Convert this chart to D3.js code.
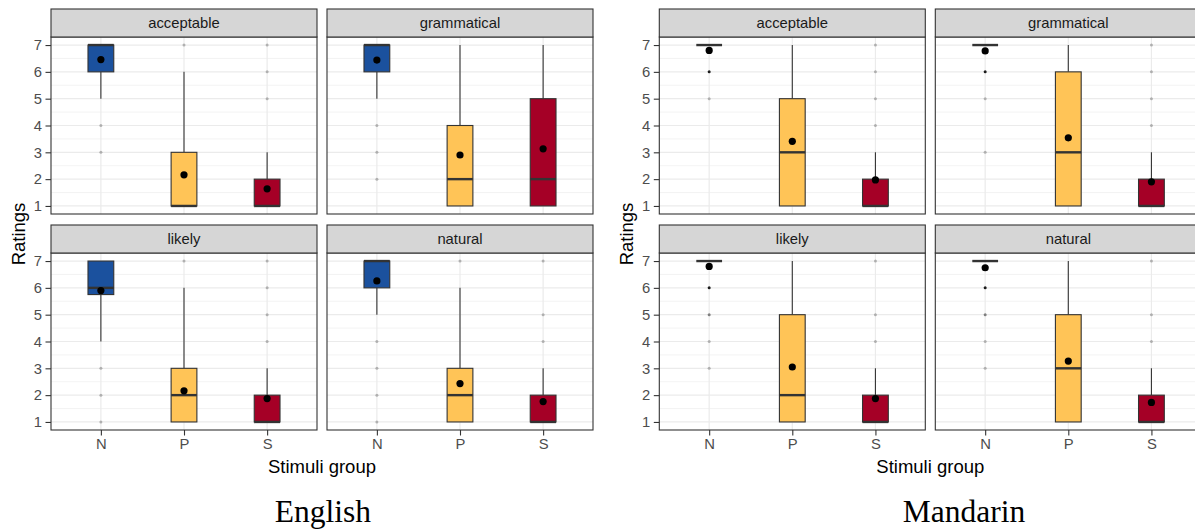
<!DOCTYPE html>
<html>
<head>
<meta charset="utf-8">
<script src="https://cdn.jsdelivr.net/npm/d3@7"></script>
<style>
  html, body { margin: 0; padding: 0; background: #ffffff; }
  svg { display: block; }
</style>
</head>
<body>
<svg id="chart" width="1195" height="531"></svg>
<script>
// ---------------- data ----------------
const languages = ["English", "Mandarin"];
const facets = ["acceptable", "grammatical", "likely", "natural"];
const groups = ["N", "P", "S"];
const yTicks = [1, 2, 3, 4, 5, 6, 7];
const yMinorTicks = [1.5, 2.5, 3.5, 4.5, 5.5, 6.5];

// facet, group, lower whisker, Q1, median, Q3, upper whisker
const englishBoxStats = [
  ["acceptable", "N", 5, 6, 7, 7, 7],
  ["acceptable", "P", 1, 1, 1, 3, 6],
  ["acceptable", "S", 1, 1, 1, 2, 3],
  ["grammatical", "N", 5, 6, 7, 7, 7],
  ["grammatical", "P", 1, 1, 2, 4, 7],
  ["grammatical", "S", 1, 1, 2, 5, 7],
  ["likely", "N", 4, 5.75, 6, 7, 7],
  ["likely", "P", 1, 1, 2, 3, 6],
  ["likely", "S", 1, 1, 1, 2, 3],
  ["natural", "N", 5, 6, 7, 7, 7],
  ["natural", "P", 1, 1, 2, 3, 6],
  ["natural", "S", 1, 1, 1, 2, 3]
];
const mandarinBoxStats = [
  ["acceptable", "N", 7, 7, 7, 7, 7],
  ["acceptable", "P", 1, 1, 3, 5, 7],
  ["acceptable", "S", 1, 1, 1, 2, 3],
  ["grammatical", "N", 7, 7, 7, 7, 7],
  ["grammatical", "P", 1, 1, 3, 6, 7],
  ["grammatical", "S", 1, 1, 1, 2, 3],
  ["likely", "N", 7, 7, 7, 7, 7],
  ["likely", "P", 1, 1, 2, 5, 7],
  ["likely", "S", 1, 1, 1, 2, 3],
  ["natural", "N", 7, 7, 7, 7, 7],
  ["natural", "P", 1, 1, 3, 5, 7],
  ["natural", "S", 1, 1, 1, 2, 3]
];

// facet, group, mean rating
const englishMeans = [
  ["acceptable", "N", 6.46], ["acceptable", "P", 2.16], ["acceptable", "S", 1.64],
  ["grammatical", "N", 6.44], ["grammatical", "P", 2.90], ["grammatical", "S", 3.13],
  ["likely", "N", 5.90], ["likely", "P", 2.16], ["likely", "S", 1.87],
  ["natural", "N", 6.26], ["natural", "P", 2.43], ["natural", "S", 1.76]
];
const mandarinMeans = [
  ["acceptable", "N", 6.80], ["acceptable", "P", 3.41], ["acceptable", "S", 1.97],
  ["grammatical", "N", 6.78], ["grammatical", "P", 3.54], ["grammatical", "S", 1.90],
  ["likely", "N", 6.80], ["likely", "P", 3.05], ["likely", "S", 1.87],
  ["natural", "N", 6.75], ["natural", "P", 3.27], ["natural", "S", 1.73]
];

// facet, group, outlier rating, number of overlapping responses
const englishOutliers = [
  ["acceptable", "N", 4, 1], ["acceptable", "N", 3, 1],
  ["acceptable", "P", 7, 1],
  ["acceptable", "S", 7, 1], ["acceptable", "S", 6, 1], ["acceptable", "S", 5, 1],
  ["grammatical", "N", 4, 1], ["grammatical", "N", 3, 1], ["grammatical", "N", 2, 1],
  ["likely", "N", 3, 1], ["likely", "N", 2, 1], ["likely", "N", 1, 1],
  ["likely", "P", 7, 1],
  ["likely", "S", 7, 1], ["likely", "S", 6, 1], ["likely", "S", 5, 1], ["likely", "S", 4, 1],
  ["natural", "N", 4, 1], ["natural", "N", 3, 1], ["natural", "N", 2, 1], ["natural", "N", 1, 1],
  ["natural", "P", 7, 1],
  ["natural", "S", 7, 1], ["natural", "S", 5, 1], ["natural", "S", 4, 1]
];
const mandarinOutliers = [
  ["acceptable", "N", 6, 4], ["acceptable", "N", 5, 1],
  ["acceptable", "S", 7, 1], ["acceptable", "S", 6, 1], ["acceptable", "S", 5, 1], ["acceptable", "S", 4, 1],
  ["grammatical", "N", 6, 4], ["grammatical", "N", 5, 1], ["grammatical", "N", 3, 1],
  ["grammatical", "S", 7, 1], ["grammatical", "S", 6, 1], ["grammatical", "S", 5, 1], ["grammatical", "S", 4, 1],
  ["likely", "N", 6, 4], ["likely", "N", 5, 2], ["likely", "N", 4, 1], ["likely", "N", 3, 1],
  ["likely", "S", 7, 1], ["likely", "S", 5, 1], ["likely", "S", 4, 1],
  ["natural", "N", 6, 4], ["natural", "N", 5, 2], ["natural", "N", 4, 1], ["natural", "N", 3, 1],
  ["natural", "S", 7, 1], ["natural", "S", 5, 1], ["natural", "S", 4, 1]
];

const groupColors = ["#1B519E", "#FFC457", "#A50026"];

// ---------------- layout ----------------
const svg = d3.select("#chart");
const panelW = 266, panelH = 177, stripH = 28, colGap = 10, rowGap = 11, topY = 9;
const blockLeft = [51, 659.3];
const titleX = [323, 964];

const datasets = [
  { box: englishBoxStats, means: englishMeans, outliers: englishOutliers },
  { box: mandarinBoxStats, means: mandarinMeans, outliers: mandarinOutliers }
];

const fill = d3.scaleOrdinal().domain(groups).range(groupColors);
const outlierOpacity = d3.scaleLinear().domain([1, 4]).range([0.28, 0.95]).clamp(true);

const FONT = "'Liberation Sans', Arial, Helvetica, sans-serif";
const grid = "#EBEBEB";
const dark = "#333333";

languages.forEach((lang, li) => {
  const ds = datasets[li];
  const g = svg.append("g");

  facets.forEach((facet, fi) => {
    const col = fi % 2, row = Math.floor(fi / 2);
    const px = blockLeft[li] + col * (panelW + colGap);
    const stripTop = topY + row * (stripH + panelH + rowGap);
    const py = stripTop + stripH;

    const x = d3.scalePoint().domain(groups).range([px, px + panelW]).padding(0.6);
    const y = d3.scaleLinear().domain([0.7, 7.3]).range([py + panelH, py]);
    const bw = x.step() * 0.31;

    const p = g.append("g");
    p.append("rect").attr("x", px).attr("y", py).attr("width", panelW).attr("height", panelH)
      .attr("fill", "#ffffff");

    // grid
    p.selectAll(".minor").data(yMinorTicks).join("line")
      .attr("x1", px).attr("x2", px + panelW)
      .attr("y1", d => y(d)).attr("y2", d => y(d))
      .attr("stroke", grid).attr("stroke-width", 0.6);
    p.selectAll(".major").data(yTicks).join("line")
      .attr("x1", px).attr("x2", px + panelW)
      .attr("y1", d => y(d)).attr("y2", d => y(d))
      .attr("stroke", grid).attr("stroke-width", 1.2);
    p.selectAll(".vmajor").data(groups).join("line")
      .attr("x1", d => x(d)).attr("x2", d => x(d))
      .attr("y1", py).attr("y2", py + panelH)
      .attr("stroke", grid).attr("stroke-width", 1.2);

    // outliers
    const outl = ds.outliers.filter(d => d[0] === facet);
    p.selectAll(".out").data(outl).join("circle")
      .attr("cx", d => x(d[1])).attr("cy", d => y(d[2])).attr("r", 1.5)
      .attr("fill", "#111111").attr("fill-opacity", d => outlierOpacity(d[3]));

    // boxes
    const boxes = ds.box.filter(d => d[0] === facet);
    boxes.forEach(d => {
      const cx = x(d[1]);
      const [lo, q1, med, q3, hi] = d.slice(2);
      p.append("line").attr("x1", cx).attr("x2", cx).attr("y1", y(hi)).attr("y2", y(q3))
        .attr("stroke", dark).attr("stroke-width", 1.1);
      p.append("line").attr("x1", cx).attr("x2", cx).attr("y1", y(q1)).attr("y2", y(lo))
        .attr("stroke", dark).attr("stroke-width", 1.1);
      p.append("rect").attr("x", cx - bw / 2).attr("y", y(q3))
        .attr("width", bw).attr("height", Math.max(0, y(q1) - y(q3)))
        .attr("fill", fill(d[1])).attr("stroke", dark).attr("stroke-width", 1.1);
      p.append("line").attr("x1", cx - bw / 2).attr("x2", cx + bw / 2)
        .attr("y1", y(med)).attr("y2", y(med))
        .attr("stroke", dark).attr("stroke-width", 2.4);
    });

    // means
    const means = ds.means.filter(d => d[0] === facet);
    p.selectAll(".mean").data(means).join("circle")
      .attr("cx", d => x(d[1])).attr("cy", d => y(d[2])).attr("r", 3.6)
      .attr("fill", "#000000");

    // panel border
    p.append("rect").attr("x", px).attr("y", py).attr("width", panelW).attr("height", panelH)
      .attr("fill", "none").attr("stroke", dark).attr("stroke-width", 1.1);

    // strip
    p.append("rect").attr("x", px).attr("y", stripTop).attr("width", panelW).attr("height", stripH)
      .attr("fill", "#D6D6D6").attr("stroke", dark).attr("stroke-width", 1.1);
    p.append("text").attr("x", px + panelW / 2).attr("y", stripTop + stripH / 2 + 5.2)
      .attr("text-anchor", "middle").attr("font-family", FONT).attr("font-size", 14.8)
      .attr("fill", "#1A1A1A").text(facet);

    // axes
    if (col === 0) {
      const ax = p.append("g").attr("transform", `translate(${px},0)`)
        .call(d3.axisLeft(y).tickValues(yTicks).tickSize(5.5).tickPadding(3.5).tickFormat(d3.format("d")));
      ax.select(".domain").remove();
      ax.selectAll("line").attr("stroke", dark).attr("stroke-width", 1.1);
      ax.selectAll("text").attr("font-family", FONT).attr("font-size", 14.8).attr("fill", "#4D4D4D");
    }
    if (row === 1) {
      const ax = p.append("g").attr("transform", `translate(0,${py + panelH})`)
        .call(d3.axisBottom(x).tickSize(5.5).tickPadding(3));
      ax.select(".domain").remove();
      ax.selectAll("line").attr("stroke", dark).attr("stroke-width", 1.1);
      ax.selectAll("text").attr("font-family", FONT).attr("font-size", 14.8).attr("fill", "#4D4D4D");
    }
  });

  // axis titles
  const bl = blockLeft[li];
  g.append("text")
    .attr("transform", `translate(${bl - 26},${234}) rotate(-90)`)
    .attr("text-anchor", "middle").attr("font-family", FONT).attr("font-size", 18.5)
    .attr("fill", "#000000").text("Ratings");
  g.append("text")
    .attr("x", bl + panelW + colGap / 2).attr("y", 473)
    .attr("text-anchor", "middle").attr("font-family", FONT).attr("font-size", 18.5)
    .attr("fill", "#000000").text("Stimuli group");

  // language title
  g.append("text")
    .attr("x", titleX[li]).attr("y", 522)
    .attr("text-anchor", "middle").attr("font-family", "'Liberation Serif', 'Times New Roman', serif")
    .attr("font-size", 31.5).attr("fill", "#000000").text(lang);
});
</script>
</body>
</html>
